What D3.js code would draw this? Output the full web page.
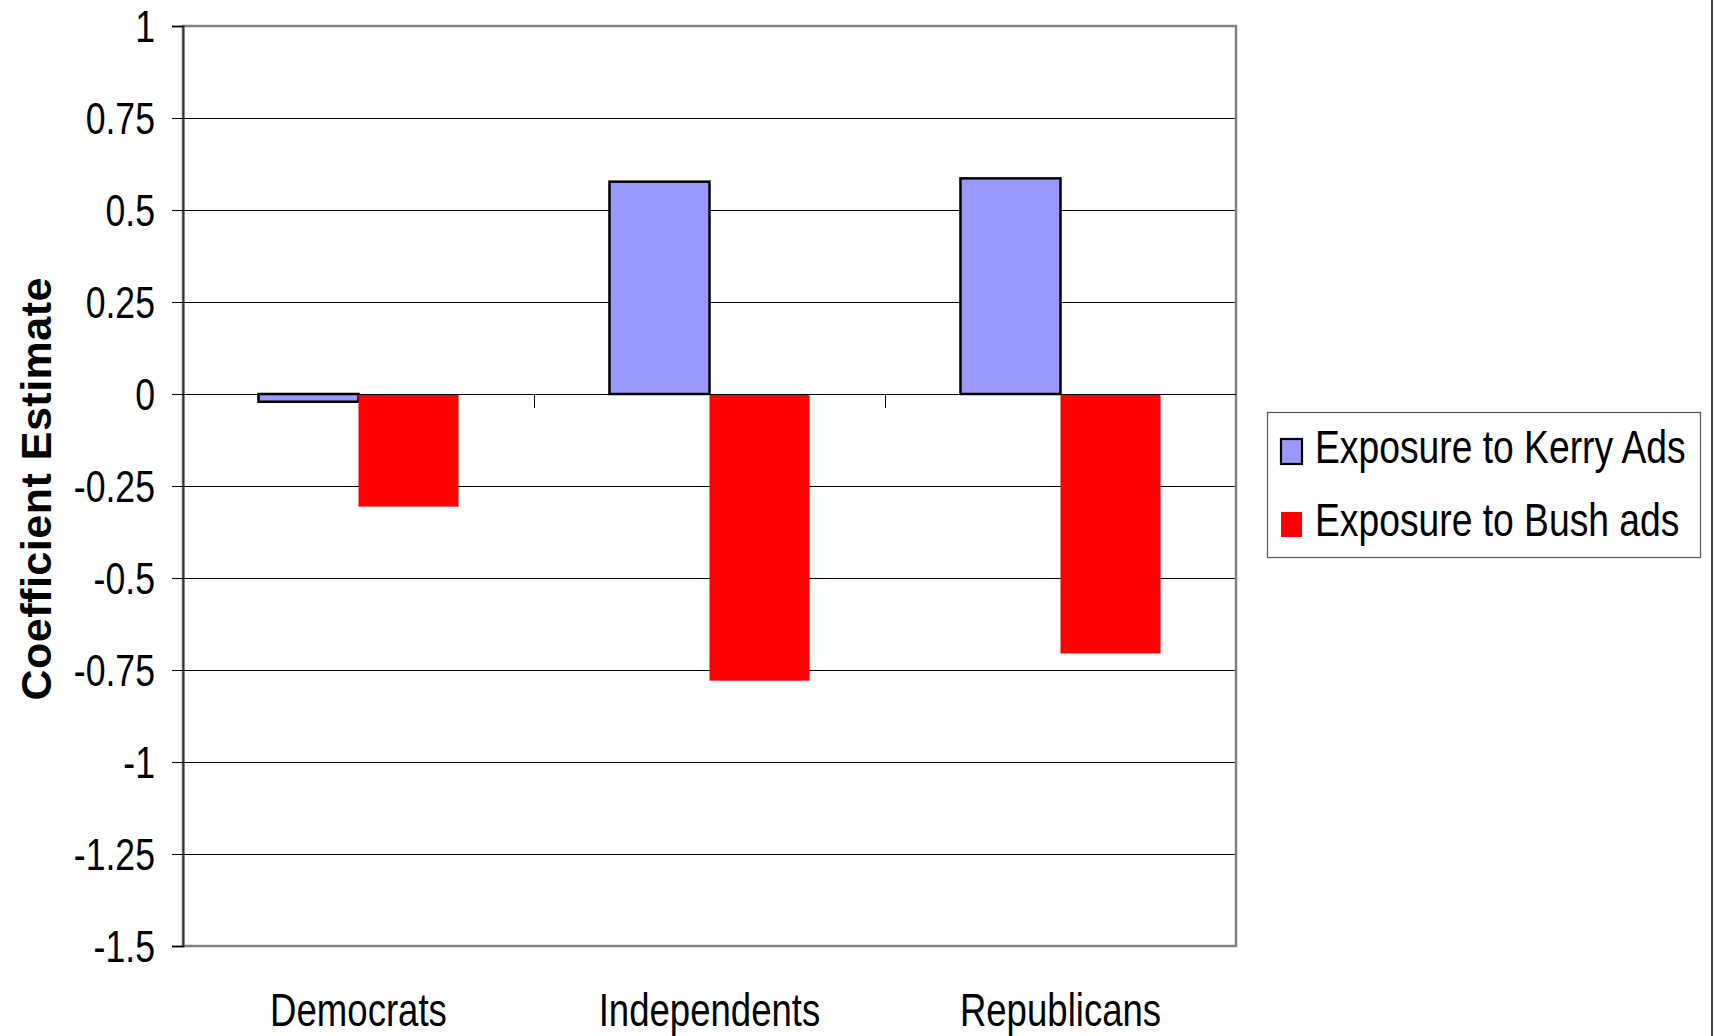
<!DOCTYPE html>
<html>
<head>
<meta charset="utf-8">
<script src="https://cdn.jsdelivr.net/npm/d3@7"></script>
<style>
  html, body { margin: 0; padding: 0; background: #fff; }
  svg { display: block; }
  text { font-family: "Liberation Sans", Arial, sans-serif; fill: #000; }
</style>
</head>
<body>
<svg id="chart" width="1715" height="1036"></svg>
<script>
// chart values
var categories = ["Democrats", "Independents", "Republicans"];
var seriesNames = ["Exposure to Kerry Ads", "Exposure to Bush ads"];
var kerryValues = [-0.021, 0.577, 0.586];
var bushValues = [-0.306, -0.779, -0.705];
var yTickValues = [1, 0.75, 0.5, 0.25, 0, -0.25, -0.5, -0.75, -1, -1.25, -1.5];
var seriesColors = ["#9999ff", "#ff0000"];

var svg = d3.select("#chart");
var W = +svg.attr("width"), H = +svg.attr("height");

var plot = {left: 183, right: 1236, top: 26, bottom: 946};

var y = d3.scaleLinear()
    .domain([-1.5, 1])
    .range([plot.bottom, plot.top]);

var x0 = d3.scaleBand()
    .domain(categories)
    .range([plot.left, plot.right])
    .paddingInner(0.43)
    .paddingOuter(0.215);

var x1 = d3.scaleBand()
    .domain(seriesNames)
    .range([0, x0.bandwidth()]);

var rows = categories.map(function(c, i) {
    return {cat: c, vals: [kerryValues[i], bushValues[i]]};
});

//gridlines
svg.append("g")
    .attr("transform", "translate(" + plot.left + ",0)")
    .call(d3.axisLeft(y).tickValues(yTickValues).tickSize(-(plot.right - plot.left)).tickFormat(""))
    .call(function(g) {
        g.select(".domain").remove();
        g.selectAll("line").attr("stroke", "#000").attr("stroke-width", 1).attr("shape-rendering", "crispEdges");
    });

//plot border
svg.append("rect")
    .attr("x", plot.left)
    .attr("y", plot.top)
    .attr("width", plot.right - plot.left)
    .attr("height", plot.bottom - plot.top)
    .attr("fill", "none")
    .attr("stroke", "#808080")
    .attr("stroke-width", 2.5);

//bars
var groups = svg.append("g").selectAll("g")
    .data(rows)
    .enter()
    .append("g")
    .attr("transform", function(d) { return "translate(" + x0(d.cat) + ",0)"; });

groups.selectAll("rect")
    .data(function(d) {
        return d.vals.map(function(v, j) { return {name: seriesNames[j], value: v, idx: j}; });
    })
    .enter()
    .append("rect")
    .attr("x", function(d) { return x1(d.name); })
    .attr("y", function(d) { return y(Math.max(0, d.value)); })
    .attr("width", x1.bandwidth())
    .attr("height", function(d) { return Math.abs(y(d.value) - y(0)); })
    .style("fill", function(d) { return seriesColors[d.idx]; })
    .style("stroke", function(d) { return d.idx == 0 ? "#000" : "none"; })
    .style("stroke-width", 2.5);

//y axis
var yAxis = svg.append("g")
    .attr("transform", "translate(" + plot.left + ",0)")
    .call(d3.axisLeft(y).tickValues(yTickValues).tickSize(11).tickPadding(0).tickFormat(function(d) { return String(d); }));

yAxis.select(".domain").attr("stroke", "#333").attr("stroke-width", 2);
yAxis.selectAll(".tick line").attr("stroke", "#000").attr("shape-rendering", "crispEdges");
yAxis.selectAll(".tick text")
    .attr("x", null)
    .attr("dy", null)
    .attr("font-size", 44)
    .attr("font-family", null)
    .attr("text-anchor", "end")
    .attr("transform", "translate(-28,15.5) scale(0.81,1)");

//x axis along the zero line
var xAxis = svg.append("g")
    .attr("transform", "translate(0," + y(0) + ")");

xAxis.append("line")
    .attr("x1", plot.left)
    .attr("x2", plot.right)
    .attr("stroke", "#000")
    .attr("shape-rendering", "crispEdges");

var boundaries = categories.slice(1).map(function(c) { return x0(c) - x0.step() * x0.paddingInner() / 2; });
xAxis.selectAll("line.sep")
    .data(boundaries)
    .enter()
    .append("line")
    .attr("class", "sep")
    .attr("x1", function(d) { return d; })
    .attr("x2", function(d) { return d; })
    .attr("y1", 0)
    .attr("y2", 14)
    .attr("stroke", "#000")
    .attr("shape-rendering", "crispEdges");

//category labels
svg.append("g").selectAll("text")
    .data(categories)
    .enter()
    .append("text")
    .attr("text-anchor", "middle")
    .attr("font-size", 46)
    .attr("transform", function(d) {
        return "translate(" + (x0(d) + x0.bandwidth() / 2) + ",1026) scale(0.795,1)";
    })
    .text(function(d) { return d; });

//y axis title
svg.append("text")
    .attr("transform", "translate(51,489) rotate(-90)")
    .attr("text-anchor", "middle")
    .attr("font-size", 43)
    .attr("font-weight", "bold")
    .attr("textLength", 423)
    .attr("lengthAdjust", "spacing")
    .text("Coefficient Estimate");

//legend
var legend = svg.append("g");

legend.append("rect")
    .attr("x", 1267.5)
    .attr("y", 412.5)
    .attr("width", 433)
    .attr("height", 145)
    .attr("fill", "#fff")
    .attr("stroke", "#555")
    .attr("stroke-width", 1.2);

var legendRows = [463, 536];

var items = legend.selectAll("g.item")
    .data(seriesNames)
    .enter()
    .append("g")
    .attr("class", "item");

items.append("rect")
    .attr("x", 1281)
    .attr("y", function(d, i) { return legendRows[i] - 24; })
    .attr("width", 21)
    .attr("height", 25)
    .style("fill", function(d, i) { return seriesColors[i]; })
    .style("stroke", function(d, i) { return i == 0 ? "#000" : "none"; })
    .style("stroke-width", 2.2);

items.append("text")
    .attr("font-size", 46)
    .attr("transform", function(d, i) { return "translate(1315," + legendRows[i] + ") scale(0.81,1)"; })
    .text(function(d) { return d; });

//page edge on the right
svg.append("line")
    .attr("x1", W - 3)
    .attr("x2", W - 3)
    .attr("y1", 0)
    .attr("y2", H)
    .attr("stroke", "#444")
    .attr("stroke-width", 2);
</script>
</body>
</html>
